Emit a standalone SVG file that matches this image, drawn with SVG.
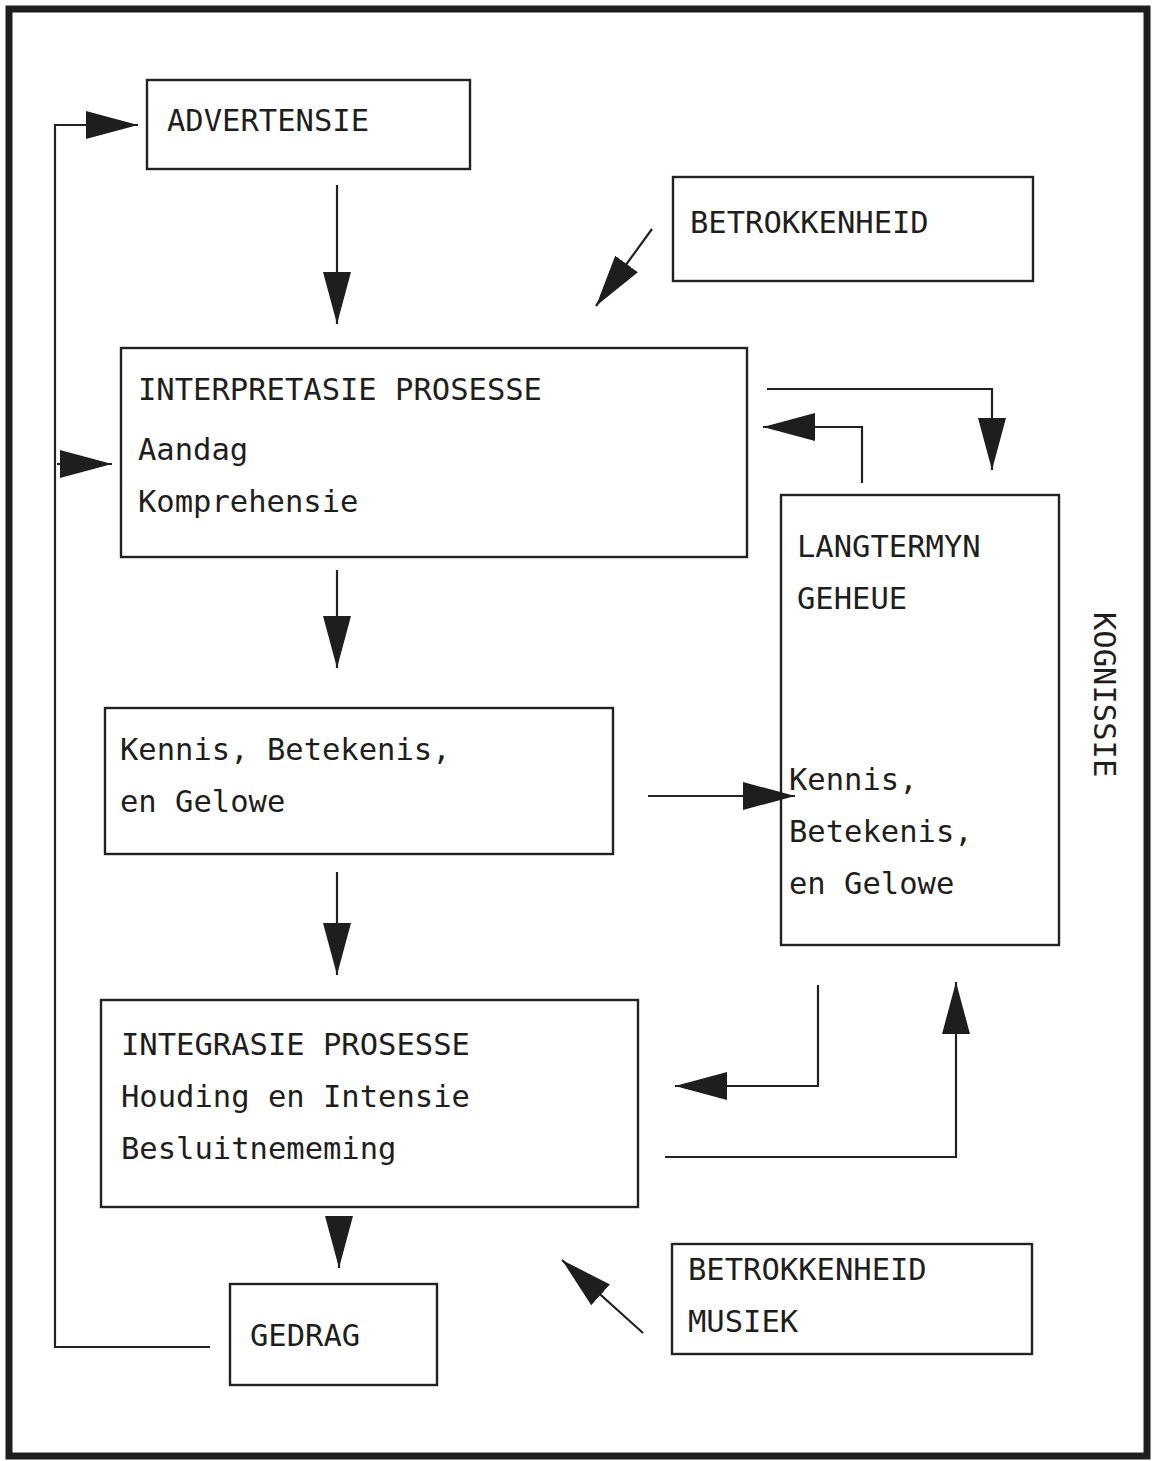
<svg xmlns="http://www.w3.org/2000/svg" width="1157" height="1461" viewBox="0 0 1157 1461">
  <style>
    .frame { fill: none; stroke: #1e1e1e; stroke-width: 7; }
    .box { fill: none; stroke: #222; stroke-width: 2.4; }
    .lbl { font-family: "DejaVu Sans Mono", "Liberation Mono", monospace; font-size: 30.5px; fill: #1e1e1e; }
    .wire { fill: none; stroke: #222; stroke-width: 2.2; marker-end: url(#head); }
  </style>
  <defs>
    <marker id="head" viewBox="0 0 52 28" refX="52" refY="14" markerWidth="52" markerHeight="28" markerUnits="userSpaceOnUse" orient="auto">
      <path d="M0,0 L52,14 L0,28 Z" fill="#1e1e1e"/>
    </marker>
  </defs>
  <rect width="1157" height="1461" fill="#ffffff"/>

  <!-- outer frame -->
  <rect class="frame" x="9" y="9" width="1138" height="1447"/>

  <g id="advertensie">
    <rect class="box" x="147" y="80" width="323" height="89"/>
    <text class="lbl" x="167" y="131">ADVERTENSIE</text>
  </g>

  <g id="betrokkenheid">
    <rect class="box" x="673" y="177" width="360" height="104"/>
    <text class="lbl" x="690" y="233">BETROKKENHEID</text>
  </g>

  <g id="interpretasie">
    <rect class="box" x="121" y="348" width="626" height="209"/>
    <text class="lbl" x="138" y="400">INTERPRETASIE PROSESSE</text>
    <text class="lbl" x="138" y="460">Aandag</text>
    <text class="lbl" x="138" y="512">Komprehensie</text>
  </g>

  <g id="kennis">
    <rect class="box" x="105" y="708" width="508" height="146"/>
    <text class="lbl" x="120" y="760">Kennis, Betekenis,</text>
    <text class="lbl" x="120" y="812">en Gelowe</text>
  </g>

  <g id="langtermyn">
    <rect class="box" x="781" y="495" width="278" height="450"/>
    <text class="lbl" x="797" y="557">LANGTERMYN</text>
    <text class="lbl" x="797" y="609">GEHEUE</text>
    <text class="lbl" x="789" y="790">Kennis,</text>
    <text class="lbl" x="789" y="842">Betekenis,</text>
    <text class="lbl" x="789" y="894">en Gelowe</text>
  </g>

  <g id="integrasie">
    <rect class="box" x="101" y="1000" width="537" height="207"/>
    <text class="lbl" x="121" y="1055">INTEGRASIE PROSESSE</text>
    <text class="lbl" x="121" y="1107">Houding en Intensie</text>
    <text class="lbl" x="121" y="1159">Besluitnememing</text>
  </g>

  <g id="gedrag">
    <rect class="box" x="230" y="1284" width="207" height="101"/>
    <text class="lbl" x="250" y="1346">GEDRAG</text>
  </g>

  <g id="musiek">
    <rect class="box" x="672" y="1244" width="360" height="110"/>
    <text class="lbl" x="688" y="1280">BETROKKENHEID</text>
    <text class="lbl" x="688" y="1332">MUSIEK</text>
  </g>

  <g id="kognissie">
    <text class="lbl" transform="translate(1094,612) rotate(90)" x="0" y="0">KOGNISSIE</text>
  </g>

  <g id="connectors">
    <path class="wire" d="M337,185 V324"/>
    <path class="wire" d="M337,570 V668"/>
    <path class="wire" d="M337,872 V975"/>
    <path class="wire" d="M339,1218 V1268"/>
    <path class="wire" d="M210,1347 H55 V125 H138"/>
    <path class="wire" d="M57,464 H112"/>
    <path class="wire" d="M767,389 H992 V470"/>
    <path class="wire" d="M862,483 V427 H763"/>
    <path class="wire" d="M648,796 H795"/>
    <path class="wire" d="M818,985 V1086 H675"/>
    <path class="wire" d="M665,1157 H956 V982"/>
    <path class="wire" d="M652,229 L596,306"/>
    <path class="wire" d="M643,1333 L562,1260"/>
  </g>
</svg>
